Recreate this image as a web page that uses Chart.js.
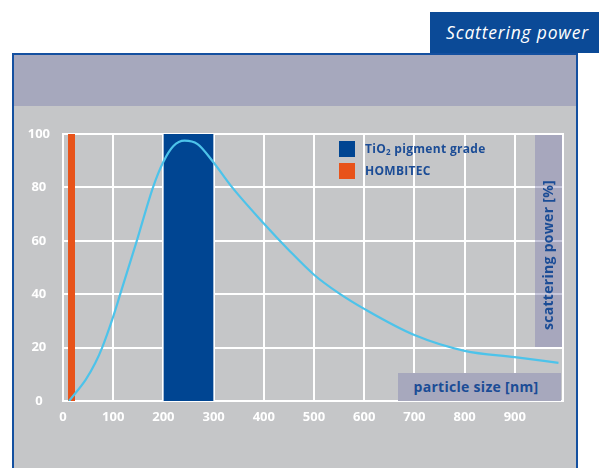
<!DOCTYPE html>
<html><head><meta charset="utf-8">
<script src="https://cdn.jsdelivr.net/npm/chart.js@4.4.1/dist/chart.umd.min.js"></script>
<style>
html,body{margin:0;padding:0;background:#fff;}
#wrap{position:relative;width:599px;height:468px;overflow:hidden;font-family:"Open Sans",sans-serif;}
.abs{position:absolute;}
#frame{left:12px;top:53px;width:562px;height:430px;border:2px solid #1450a0;background:#c5c6c8;}
#band{left:14px;top:55px;width:562px;height:51px;background:#a6a8bd;}
#tab{left:430px;top:12px;width:163px;padding-left:6px;height:41px;background:#0b4a97;color:#fff;font-style:italic;font-size:17.5px;letter-spacing:0.8px;line-height:41px;text-align:center;white-space:nowrap;}
canvas{position:absolute;left:0;top:0;}
.sq{width:16px;height:16px;}
.lg{color:#1b4c96;font-weight:700;font-size:12px;letter-spacing:0.3px;line-height:16px;white-space:nowrap;}
.lg sub{font-size:8px;vertical-align:-2px;line-height:0;}
#ybox{left:535px;top:135px;width:27px;height:212px;background:rgba(127,128,174,0.43);}
#xbox{left:398px;top:373px;width:163px;height:28px;background:#a7a8bd;}
.ttl{color:#1b4c96;font-weight:700;font-size:14px;letter-spacing:0.3px;white-space:nowrap;line-height:16px;}
#ytitle{left:548px;top:255px;transform:translate(-50%,-50%) rotate(-90deg);}
#xtitle{left:476px;top:387px;transform:translate(-50%,-50%);}
</style></head>
<body>
<div id="wrap">
  <div id="frame" class="abs"></div>
  <div id="band" class="abs"></div>
  <div id="tab" class="abs">Scattering power</div>
  <canvas id="c" width="599" height="468"></canvas>
  <div id="ybox" class="abs"></div>
  <div id="xbox" class="abs"></div>
  <div id="ytitle" class="abs ttl">scattering power [%]</div>
  <div id="xtitle" class="abs ttl">particle size [nm]</div>
  <div class="abs sq" style="left:339px;top:141px;background:#004592"></div>
  <div class="abs sq" style="left:339px;top:163px;background:#e8531a"></div>
  <div class="abs lg" style="left:365px;top:141px">TiO<sub>2</sub> pigment grade</div>
  <div class="abs lg" style="left:365px;top:163px">HOMBITEC</div>
</div>
<script>
// Scattering power curve (particle size nm -> %)
const curveX = [12, 45, 64, 78, 100, 114, 147, 180, 200, 220, 242, 268, 298, 337, 400, 450, 500, 550, 600, 700, 800, 900, 987];
const curveY = [0, 7.9, 14.1, 20, 31.6, 40, 60, 80.4, 89.6, 95.5, 97.5, 96.2, 89.8, 80, 66.5, 56.5, 47.3, 40.3, 34.5, 24.7, 18.8, 16.4, 14.3];
// Ranges (nm) shown as full-height bands
const tio2Range = [200, 300];
const tio2Value = 100;
const hombRange = [10, 24];
const hombValue = 100;
// Tick labels
const xTickValues = [0, 100, 200, 300, 400, 500, 600, 700, 800, 900];
const yTickValues = [0, 20, 40, 60, 80, 100];

function band(r, v){ return [{x:r[0],y:0},{x:r[0],y:v},{x:r[1],y:v},{x:r[1],y:0}]; }

const areaBorder = {
  id:'areaBorder',
  beforeDatasetsDraw(c){
    const {ctx, chartArea:a} = c;
    ctx.save(); ctx.strokeStyle='#ffffff'; ctx.lineWidth=2;
    ctx.strokeRect(a.left, a.top, a.right-a.left, a.bottom-a.top);
    ctx.restore();
  }
};

Chart.defaults.font.family = "'Open Sans', sans-serif";
new Chart(document.getElementById('c'), {
  type:'line',
  data:{ datasets:[
    { label:'scattering power', data: curveX.map((x,i)=>({x, y:curveY[i]})), borderColor:'#4dc3ea', borderWidth:2.2,
      pointRadius:0, cubicInterpolationMode:'monotone', fill:false, order:0 },
    { label:'TiO2 pigment grade', data: band(tio2Range, tio2Value), borderColor:'rgba(0,0,0,0)', borderWidth:0,
      backgroundColor:'#004592', fill:'origin', pointRadius:0, tension:0, order:1 },
    { label:'HOMBITEC', data: band(hombRange, hombValue), borderColor:'rgba(0,0,0,0)', borderWidth:0,
      backgroundColor:'#e8531a', fill:'origin', pointRadius:0, tension:0, order:2 }
  ]},
  options:{
    responsive:false, animation:false, events:[],
    layout:{ padding:{ left:0, top:134, right:36, bottom:0 } },
    plugins:{ legend:{display:false}, tooltip:{enabled:false} },
    scales:{
      x:{ type:'linear', min:0, max:996,
        afterBuildTicks:s=>{ s.ticks = xTickValues.map(v=>({value:v})); },
        afterFit:s=>{ s.height = 67; },
        grid:{ color:'#ffffff', lineWidth:2, drawTicks:false },
        border:{ display:false },
        ticks:{ color:'#ffffff', font:{size:13, weight:'bold'}, padding:8, maxRotation:0, autoSkip:false }
      },
      y:{ type:'linear', min:0, max:100,
        afterBuildTicks:s=>{ s.ticks = yTickValues.map(v=>({value:v})); },
        afterFit:s=>{ s.width = 63; },
        grid:{ color:'#ffffff', lineWidth:2, drawTicks:false },
        border:{ display:false },
        ticks:{ color:'#ffffff', font:{size:13, weight:'bold'}, padding:13, crossAlign:'center' }
      }
    }
  },
  plugins:[areaBorder]
});
</script>
</body></html>
